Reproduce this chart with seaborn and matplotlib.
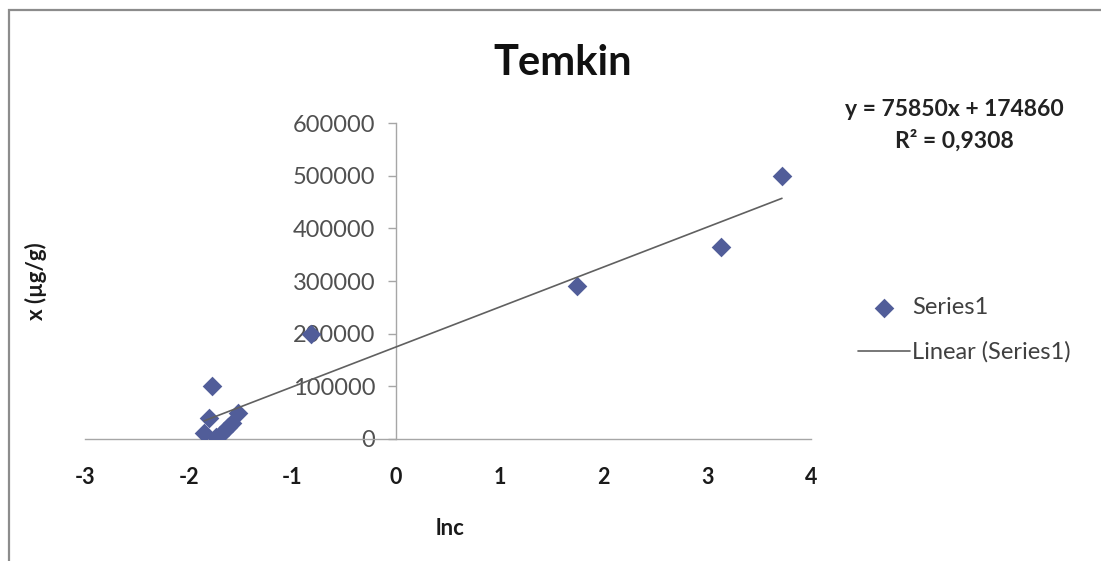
import numpy as np
import pandas as pd
import matplotlib
matplotlib.use("Agg")
import matplotlib.pyplot as plt
import matplotlib.patches as mpatches
import seaborn as sns

# Temkin isotherm: ln c versus adsorbed amount
ln_c = [-1.85, -1.80, -1.78, -1.74, -1.70, -1.66, -1.62, -1.58, -1.52, -0.82, 1.74, 3.13, 3.72]
x_ug_g = [12000, 40000, 100000, 3000, 8000, 15000, 22000, 30000, 50000, 200000, 290000, 365000, 500000]

# Linear trend line as reported
slope = 75850
intercept = 174860
equation_text = "y = 75850x + 174860"
r2_text = "R² = 0,9308"

x_ticks = [-3, -2, -1, 0, 1, 2, 3, 4]
y_ticks = [0, 100000, 200000, 300000, 400000, 500000, 600000]

title = "Temkin"
x_label = "lnc"
y_label = "x (µg/g)"
series_label = "Series1"
trend_label = "Linear (Series1)"

marker_color = "#515D99"
line_color = "#606060"
axis_color = "#A6A6A6"

sns.set_theme(style="white")
plt.rcParams["font.family"] = ["Lato", "DejaVu Sans"]

fig = plt.figure(figsize=(11.01, 5.61), dpi=100)
ax = fig.add_axes([0.0772, 0.2175, 0.6594, 0.5632])

df = pd.DataFrame({"lnc": ln_c, "x": x_ug_g})
sns.scatterplot(data=df, x="lnc", y="x", marker="D", s=100, color=marker_color,
                edgecolor=marker_color, linewidth=0, ax=ax, label=series_label, zorder=3)

fit_x = np.array([min(ln_c), max(ln_c)])
fit_y = slope * fit_x + intercept
sns.lineplot(x=fit_x, y=fit_y, color=line_color, linewidth=1.2, ax=ax,
             label=trend_label, zorder=4)

ax.set_xlim(x_ticks[0], x_ticks[-1])
ax.set_ylim(y_ticks[0], y_ticks[-1])
ax.set_xticks(x_ticks)
ax.set_yticks(y_ticks)
ax.set_xticklabels([str(t) for t in x_ticks])
ax.set_yticklabels([str(t) for t in y_ticks])

# Excel-style axes: vertical axis crosses at x = 0
for side in ("top", "right"):
    ax.spines[side].set_visible(False)
ax.spines["left"].set_position(("data", 0))
ax.spines["left"].set_color(axis_color)
ax.spines["bottom"].set_color(axis_color)
ax.spines["left"].set_linewidth(1.0)
ax.spines["bottom"].set_linewidth(1.0)

ax.tick_params(axis="y", direction="out", length=6, width=1, color=axis_color,
               pad=9, labelsize=17, labelcolor="#505050", left=True)
ax.tick_params(axis="x", length=0, pad=20, labelsize=15.5, labelcolor="#1a1a1a")
for lbl in ax.get_xticklabels():
    lbl.set_fontweight("bold")

ax.set_xlabel(x_label, fontsize=16, fontweight="bold", color="#1a1a1a")
ax.set_ylabel(y_label, fontsize=16, fontweight="bold", color="#1a1a1a")
ax.xaxis.set_label_coords(0.503, -0.25)
ax.yaxis.set_label_coords(-0.052, 0.5)

fig.text(0.511, 0.888, title, ha="center", va="center", fontsize=30,
         fontweight="bold", color="#111111")

fig.text(0.867, 0.804, equation_text, ha="center", va="center", fontsize=16.5,
         fontweight="bold", color="#222222")
fig.text(0.867, 0.750, r2_text, ha="center", va="center", fontsize=16.5,
         fontweight="bold", color="#222222")

handles, labels = ax.get_legend_handles_labels()
ax.legend_.remove()
fig.legend(handles, labels, loc="center left", bbox_to_anchor=(858 / 1101, 1 - 330 / 561),
           frameon=False, fontsize=17, handlelength=2.2, handletextpad=0.1,
           labelspacing=1.0, borderpad=0, borderaxespad=0, labelcolor="#404040")

# Chart area border
fig.patches.append(mpatches.Rectangle((0.0082, -0.05), 1.2, 0.982 + 0.05,
                                      transform=fig.transFigure, fill=False,
                                      edgecolor="#8C8C8C", linewidth=1.6))

fig.savefig("out.png", dpi=100, facecolor="white")
